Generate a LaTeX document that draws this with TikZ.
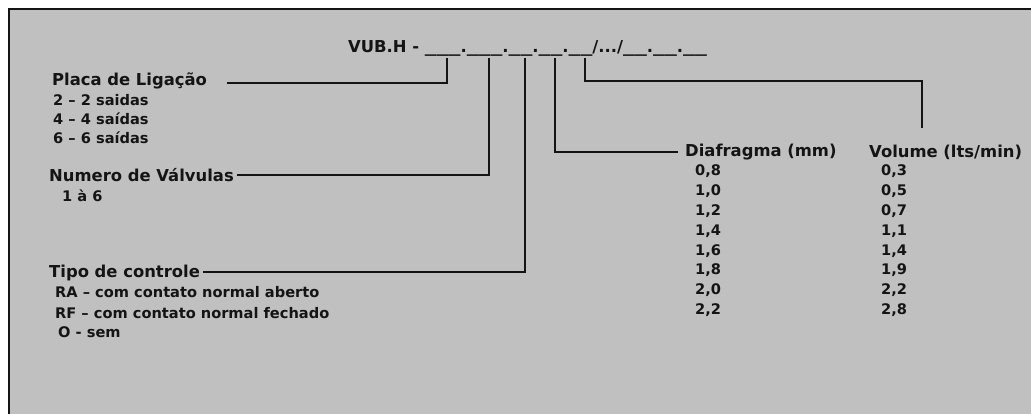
\documentclass[tikz,border=0pt]{standalone}
\usepackage{fontspec}
\setmainfont{DejaVu Sans}
\usepackage{graphicx}
\usepackage{tikz}
\usetikzlibrary{calc}

\definecolor{panel}{HTML}{C0C0C0}
\definecolor{ink}{HTML}{141414}
\newcommand\headfont{\fontsize{16.4}{20}\selectfont\bfseries}
\newcommand\listfont{\fontsize{14.6}{19}\selectfont\bfseries}
\newcommand\blank[1]{\scalebox{1.45}[1]{#1}}

\begin{document}
\begin{tikzpicture}[x=1pt,y=-1pt,
    head/.style={anchor=base west,inner sep=0pt,font=\headfont,text=ink},
    entry/.style={anchor=base west,inner sep=0pt,font=\listfont,text=ink},
    lead/.style={line width=2pt,draw=ink}]
        \useasboundingbox (0,0) rectangle (1031,414);
        \fill[white] (0,0) rectangle (1031,414);

        % Panel
        \begin{scope}
            \clip (0,0) rectangle (1031,414);
            \draw[line width=2.5pt,draw=ink,fill=panel] (9,9) rectangle (1045,430);
        \end{scope}

        % Code
        \node[head] (code) at (348,53) {VUB.H - \blank{\_\_\_}.\blank{\_\_\_}.\blank{\_\_}.\blank{\_\_}.\blank{\_\_}/.../\blank{\_\_}.\blank{\_\_}.\blank{\_\_}};
        \coordinate (t1) at (447,58);
        \coordinate (t2) at (489,58);
        \coordinate (t3) at (525,58);
        \coordinate (t4) at (555,58);
        \coordinate (t5) at (585,58);
        \coordinate (v) at (922,128);

        % Placa de ligacao
        \node[head] (placa) at (52,86) {Placa de Ligação};
        \node[entry] (pl1) at (53,106) {2 – 2 saidas};
        \node[entry] (pl2) at (53,125) {4 – 4 saídas};
        \node[entry] (pl3) at (53,144) {6 – 6 saídas};

        % Valvulas
        \node[head] (valv) at (49,182) {Numero de Válvulas};
        \node[entry] (va1) at (62,202) {1 à 6};

        % Controle
        \node[head] (tipo) at (49,277) {Tipo de controle};
        \node[entry] (ti1) at (55,298) {RA – com contato normal aberto};
        \node[entry] (ti2) at (55,318) {RF – com contato normal fechado};
        \node[entry] (ti3) at (58,337) {O - sem};

        % Diafragma and volume
        \node[head] (diaf) at (685,157) {Diafragma (mm)};
        \node[head] (vol) at (869,158) {Volume (lts/min)};
        \foreach \d [count=\i] in {{0,8},{1,0},{1,2},{1,4},{1,6},{1,8},{2,0},{2,2}}
            \node[entry] (dia\i) at (695,{176+19.8*(\i-1)}) {\d};
        \foreach \q [count=\i] in {{0,3},{0,5},{0,7},{1,1},{1,4},{1,9},{2,2},{2,8}}
            \node[entry] (vo\i) at (881,{176+19.8*(\i-1)}) {\q};

        % Leaders
        \draw[lead] (t1) |- ([xshift=20pt,yshift=3pt]placa.base east);
        \draw[lead] (t2) |- ([xshift=3pt,yshift=7pt]valv.base east);
        \draw[lead] (t3) |- ([xshift=3pt,yshift=5pt]tipo.base east);
        \draw[lead] (t4) |- ([xshift=-7pt,yshift=5pt]diaf.base west);
        \draw[lead] (t5) -- ++(0,23) -| (v);
\end{tikzpicture}
\end{document}
